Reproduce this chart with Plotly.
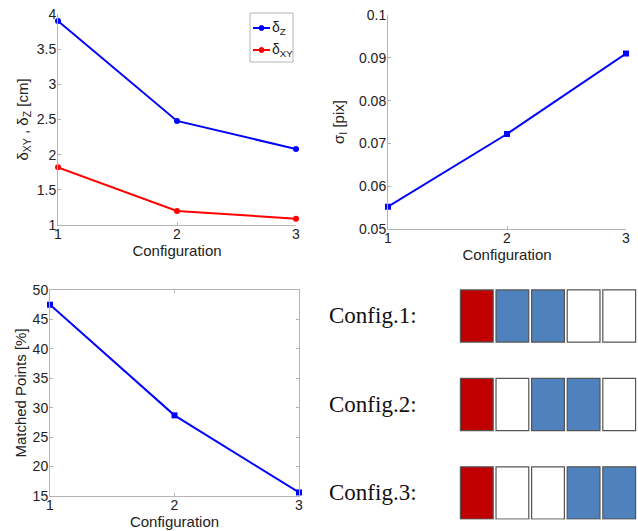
import plotly.graph_objects as go

W, H = 638, 531

configs = [1, 2, 3]
delta_z = [3.90, 2.48, 2.08]
delta_xy = [1.82, 1.20, 1.09]
sigma_i = [0.0552, 0.0722, 0.0910]
matched = [47.5, 28.7, 15.6]

legend_names = ["δ<sub>Z</sub>", "δ<sub>XY</sub>"]
legend_colors = ["#0000ff", "#ff0000"]

config_labels = ["Config.1:", "Config.2:", "Config.3:"]
# 2 = red, 1 = blue, 0 = empty
config_cells = [
    [2, 1, 1, 0, 0],
    [2, 0, 1, 1, 0],
    [2, 0, 0, 1, 1],
]
cell_colors = {0: "#ffffff", 1: "#4f81bd", 2: "#c00000"}

BLUE = "#0000ff"
RED = "#ff0000"
AX = "#b4b4b4"
TXT = "#222222"
FONT = "Liberation Sans, Arial, sans-serif"


def px_x(a, b):
    return [a / W, b / W]


def px_y(top, bottom):
    return [(H - bottom) / H, (H - top) / H]


fig = go.Figure()

fig.add_trace(go.Scatter(x=configs, y=delta_z, mode="lines+markers", name=legend_names[0],
                         line=dict(color=BLUE, width=2), marker=dict(color=BLUE, size=6),
                         cliponaxis=False, xaxis="x", yaxis="y"))
fig.add_trace(go.Scatter(x=configs, y=delta_xy, mode="lines+markers", name=legend_names[1],
                         line=dict(color=RED, width=2), marker=dict(color=RED, size=6),
                         cliponaxis=False, xaxis="x", yaxis="y"))
fig.add_trace(go.Scatter(x=configs, y=sigma_i, mode="lines+markers",
                         line=dict(color=BLUE, width=2), marker=dict(color=BLUE, size=6, symbol="square"),
                         cliponaxis=False, xaxis="x2", yaxis="y2"))
fig.add_trace(go.Scatter(x=configs, y=matched, mode="lines+markers",
                         line=dict(color=BLUE, width=2), marker=dict(color=BLUE, size=6, symbol="square"),
                         cliponaxis=False, xaxis="x3", yaxis="y3"))

common = dict(showgrid=False, zeroline=False, showline=True, linecolor=AX, linewidth=1,
              ticks="inside", ticklen=3, tickcolor=AX, automargin=False,
              tickfont=dict(family=FONT, size=14, color=TXT))
xcommon = dict(common, ticklabelstandoff=-4)
ycommon = dict(common, ticklabelstandoff=-2)


def xtitle(st):
    return dict(text="Configuration", font=dict(family=FONT, size=15, color=TXT), standoff=st)


def ytitle(t, st):
    return dict(text=t, font=dict(family=FONT, size=15, color=TXT), standoff=st)


fig.update_layout(
    width=W, height=H, margin=dict(l=0, r=0, t=0, b=0),
    paper_bgcolor="white", plot_bgcolor="white",
    font=dict(family=FONT, color=TXT),
    showlegend=False,
    xaxis=dict(domain=px_x(58, 296), range=[1, 3], tickvals=[1, 2, 3], anchor="y",
               title=xtitle(0), **xcommon),
    yaxis=dict(domain=px_y(14, 225), range=[1, 4], tickvals=[1, 1.5, 2, 2.5, 3, 3.5, 4],
               ticktext=["1", "1.5", "2", "2.5", "3", "3.5", "4"], anchor="x",
               title=ytitle("δ<sub>XY</sub> , δ<sub>Z</sub> [cm]", 4), **ycommon),
    xaxis2=dict(domain=px_x(388, 626), range=[1, 3], tickvals=[1, 2, 3], anchor="y2",
                title=xtitle(0), **xcommon),
    yaxis2=dict(domain=px_y(15, 229), range=[0.05, 0.1], tickvals=[0.05, 0.06, 0.07, 0.08, 0.09, 0.1],
                ticktext=["0.05", "0.06", "0.07", "0.08", "0.09", "0.1"], anchor="x2",
                title=ytitle("σ<sub>I</sub> [pix]", 10), **ycommon),
    xaxis3=dict(domain=px_x(50, 299), range=[1, 3], tickvals=[1, 2, 3], anchor="y3", mirror="ticks",
                title=xtitle(0), **xcommon),
    yaxis3=dict(domain=px_y(290, 496), range=[15, 50], tickvals=[15, 20, 25, 30, 35, 40, 45, 50], anchor="x3",
                mirror="ticks", title=ytitle("Matched Points [%]", 2), **ycommon),
    xaxis4=dict(domain=px_x(459, 637), range=[0, 5], visible=False, anchor="y4", fixedrange=True),
    yaxis4=dict(domain=px_y(280.6, 519.5), range=[2.3, -0.4], visible=False, anchor="x4", fixedrange=True),
)

# invisible trace to activate axis 4
fig.add_trace(go.Scatter(x=[0, 5], y=[0, 2], mode="markers", marker=dict(opacity=0),
                         showlegend=False, hoverinfo="skip", xaxis="x4", yaxis="y4"))

shapes = []
annotations = []

# compact MATLAB-style legend box
lx0, lx1, ly0, ly1 = 250, 293, 13, 62
shapes.append(dict(type="rect", xref="paper", yref="paper",
                   x0=lx0 / W, x1=lx1 / W, y0=(H - ly1) / H, y1=(H - ly0) / H,
                   fillcolor="white", line=dict(color=AX, width=1), layer="above"))
for i, (nm, col) in enumerate(zip(legend_names, legend_colors)):
    yy = 28 + i * 22
    shapes.append(dict(type="line", xref="paper", yref="paper",
                       x0=253 / W, x1=270 / W, y0=(H - yy) / H, y1=(H - yy) / H,
                       line=dict(color=col, width=2), layer="above"))
    shapes.append(dict(type="circle", xref="paper", yref="paper",
                       x0=259 / W, x1=264 / W, y0=(H - yy - 2.5) / H, y1=(H - yy + 2.5) / H,
                       fillcolor=col, line=dict(color=col, width=1), layer="above"))
    annotations.append(dict(text=nm, xref="paper", yref="paper", x=270 / W, y=(H - yy) / H,
                            xanchor="left", yanchor="middle", showarrow=False,
                            font=dict(family=FONT, size=14, color=TXT)))

for r, row in enumerate(config_cells):
    for c, v in enumerate(row):
        shapes.append(dict(type="rect", xref="x4", yref="y4",
                           x0=c + 0.04, x1=c + 0.96, y0=r - 0.295, y1=r + 0.295,
                           fillcolor=cell_colors[v], line=dict(color="#555555", width=1.2)))
    annotations.append(dict(text=config_labels[r], xref="paper", yref="y4",
                            x=327 / W, y=r, xanchor="left", yanchor="middle", showarrow=False,
                            font=dict(family="Liberation Serif, Times New Roman, serif", size=23, color="#111111")))

fig.update_layout(shapes=shapes, annotations=annotations)

fig.write_html("out.html")
